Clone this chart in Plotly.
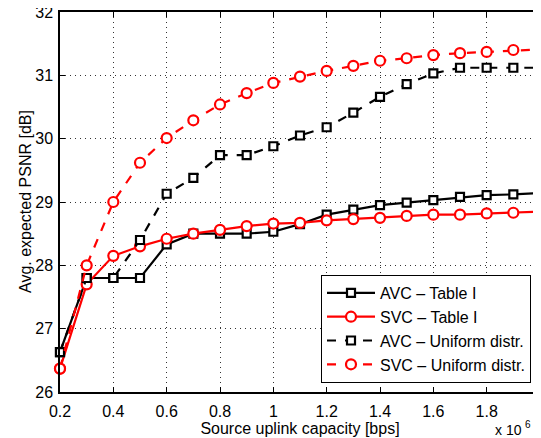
import plotly.graph_objects as go

capacity = [0.2, 0.3, 0.4, 0.5, 0.6, 0.7, 0.8, 0.9, 1.0, 1.1, 1.2, 1.3, 1.4, 1.5, 1.6, 1.7, 1.8, 1.9, 2.0]

avc_table = [26.63, 27.80, 27.80, 27.80, 28.33, 28.50, 28.50, 28.50, 28.53, 28.65, 28.80, 28.88, 28.95, 28.99, 29.03, 29.08, 29.11, 29.12, 29.14]
svc_table = [26.37, 27.70, 28.15, 28.30, 28.42, 28.50, 28.56, 28.62, 28.66, 28.67, 28.71, 28.73, 28.75, 28.78, 28.80, 28.80, 28.82, 28.83, 28.85]
avc_uniform = [26.63, 27.80, 27.80, 28.40, 29.13, 29.38, 29.74, 29.74, 29.88, 30.05, 30.18, 30.41, 30.66, 30.86, 31.03, 31.12, 31.12, 31.12, 31.12]
svc_uniform = [26.37, 28.00, 29.00, 29.62, 30.01, 30.29, 30.54, 30.72, 30.88, 30.98, 31.07, 31.15, 31.23, 31.27, 31.32, 31.35, 31.37, 31.40, 31.41]

x_ticks = [0.2, 0.4, 0.6, 0.8, 1.0, 1.2, 1.4, 1.6, 1.8, 2.0]
x_tick_labels = ["0.2", "0.4", "0.6", "0.8", "1", "1.2", "1.4", "1.6", "1.8", "2"]
y_ticks = [26, 27, 28, 29, 30, 31, 32]

FONT = "Liberation Sans"

# page body has an 8px default margin; size the figure so it ends at the window edge
W, H = 533, 430
ML, MT, MB, MR = 52, 4, 46, 1
PLOT_W = W - ML - MR
PLOT_H = H - MT - MB

fig = go.Figure()

def add(name, y, color, dash, symbol, size):
    fig.add_trace(go.Scatter(
        x=capacity, y=y, name=name, mode="lines+markers",
        line=dict(color=color, width=2.2, dash=dash),
        marker=dict(symbol=symbol, size=size, color="white",
                    line=dict(color=color, width=2.2)),
        cliponaxis=False,
    ))

add("AVC – Table I", avc_table, "black", "solid", "square", 8)
add("SVC – Table I", svc_table, "#ff0000", "solid", "circle", 10)
add("AVC – Uniform distr.", avc_uniform, "black", "dash", "square", 8)
add("SVC – Uniform distr.", svc_uniform, "#ff0000", "dash", "circle", 10)

axis_common = dict(
    showline=True, linecolor="black", linewidth=1.5, mirror="allticks",
    ticks="inside", ticklen=5, tickcolor="black", tickwidth=1,
    showgrid=True, gridcolor="#333", griddash="1px,4px", gridwidth=1,
    zeroline=False, automargin=False, ticklabeloverflow="allow",
    tickfont=dict(family=FONT, size=16, color="black"),
)

fig.update_xaxes(range=[0.2, 2.0], tickvals=x_ticks, ticktext=x_tick_labels,
                 ticklabelstandoff=4,
                 title=dict(text="Source uplink capacity [bps]", standoff=0,
                            font=dict(family=FONT, size=16, color="black")),
                 **axis_common)
fig.update_yaxes(range=[26, 32], tickvals=y_ticks,
                 ticklabelstandoff=2,
                 **axis_common)

# y-axis title
fig.add_annotation(text="Avg. expected PSNR [dB]", xref="paper", yref="paper",
                   x=(17 - ML) / PLOT_W, y=0.5, textangle=-90,
                   xanchor="center", yanchor="middle", showarrow=False,
                   font=dict(family=FONT, size=16, color="black"))

# exponent label "x 10^6"
fig.add_annotation(text="x 10", xref="paper", yref="paper",
                   x=(516 - ML) / PLOT_W, y=-38 / PLOT_H, xanchor="right", yanchor="middle",
                   showarrow=False, font=dict(family=FONT, size=14, color="black"))
fig.add_annotation(text="6", xref="paper", yref="paper",
                   x=(515 - ML) / PLOT_W, y=-32 / PLOT_H, xanchor="left", yanchor="middle",
                   showarrow=False, font=dict(family=FONT, size=10, color="black"))

fig.update_layout(
    width=W, height=H,
    margin=dict(l=ML, r=MR, t=MT, b=MB, autoexpand=False),
    plot_bgcolor="white", paper_bgcolor="white",
    font=dict(family=FONT, size=16, color="black"),
    legend=dict(x=(321 - 60) / 480, y=(392 - 383) / PLOT_H, xanchor="left", yanchor="bottom",
                bgcolor="white", bordercolor="black", borderwidth=1,
                font=dict(family=FONT, size=16, color="black"),
                tracegroupgap=0, itemwidth=48),
    showlegend=True,
)

fig.write_html("out.html")
